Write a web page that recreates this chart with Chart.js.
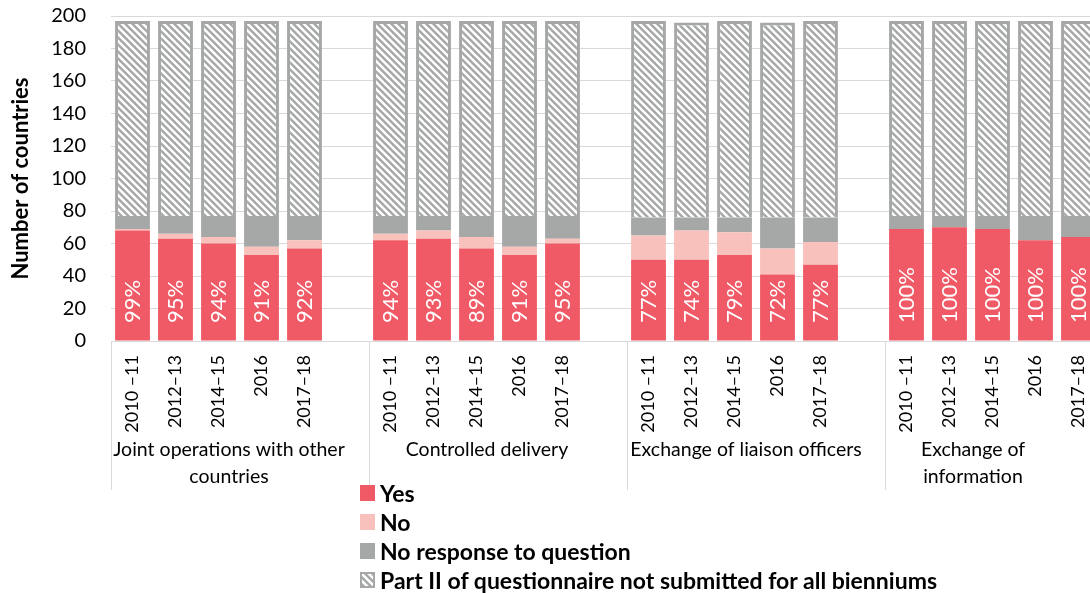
<!DOCTYPE html>
<html>
<head>
<meta charset="utf-8">
<script src="https://cdn.jsdelivr.net/npm/chart.js@4/dist/chart.umd.min.js"></script>
<style>
  html, body { margin: 0; padding: 0; background: #fff; overflow: hidden; }
  body { width: 1090px; height: 594px; position: relative; font-family: Lato, sans-serif; }
  #wrap { position: absolute; left: 0; top: 0; width: 1150px; height: 594px; }
  #legend { position: absolute; left: 360px; top: 483px; }
  #legend .item { display: flex; align-items: center; height: 20px; margin-bottom: 9px; font-weight: bold; font-size: 23px; color: #000; white-space: nowrap; }
  #legend .box { width: 15px; height: 16px; margin-right: 5px; box-sizing: border-box; }
  #source { position: absolute; left: 12px; top: 589px; font-size: 18px; color: #595959; white-space: nowrap; }
</style>
</head>
<body>
<div id="wrap"><canvas id="chart" width="1150" height="594"></canvas></div>
<div id="legend"></div>
<div id="source">Source: E/CN.7/2020/6</div>
<script>
const years = ["2010 –11", "2012–13", "2014–15", "2016", "2017–18"];
const groups = [
    ["Joint operations with other", "countries"],
    ["Controlled delivery"],
    ["Exchange of liaison officers"],
    ["Exchange of", "information"]
];

// number of countries, 5 bienniums per group
const yes = [68, 63, 60, 53, 57, 62, 63, 57, 53, 60, 50, 50, 53, 41, 47, 69, 70, 69, 62, 64];
const no = [1, 3, 4, 5, 5, 4, 5, 7, 5, 3, 15, 18, 14, 16, 14, 0, 0, 0, 0, 0];
const noResponse = [8, 11, 13, 19, 15, 11, 9, 13, 19, 14, 11, 8, 9, 19, 15, 8, 7, 8, 15, 13];
const notSubmitted = [120, 120, 120, 120, 120, 120, 120, 120, 120, 120, 121, 120, 121, 120, 121, 120, 120, 120, 120, 120];
const yesShare = [99, 95, 94, 91, 92, 94, 93, 89, 91, 95, 77, 74, 79, 72, 77, 100, 100, 100, 100, 100];

const yTicks = [0, 20, 40, 60, 80, 100, 120, 140, 160, 180, 200];

// label nudges for the group names under the axis
const groupShift = [-11, -11, -10, -41];

// one empty slot after every group
const labels = [];
groups.forEach(() => labels.push(...years, ""));

function spread(values) {
    const out = [];
    groups.forEach((g, gi) => {
        for (let i = 0; i < years.length; i++) out.push(values[gi * years.length + i]);
        out.push(null);
    });
    return out;
}

const grey = "#a6a8a8";

function hatchTile() {
    const s = 7;
    const c = document.createElement("canvas");
    c.width = s;
    c.height = s;
    const x = c.getContext("2d");
    x.fillStyle = grey;
    x.fillRect(0, 0, s, s);
    x.strokeStyle = "#fff";
    x.lineWidth = 2.5;
    x.beginPath();
    x.moveTo(0, 0); x.lineTo(s, s);
    x.moveTo(-1, s - 1); x.lineTo(1, s + 1);
    x.moveTo(s - 1, -1); x.lineTo(s + 1, 1);
    x.stroke();
    return c;
}

const tile = hatchTile();
const ctx = document.getElementById("chart").getContext("2d");
const hatch = ctx.createPattern(tile, "repeat");

const annotate = {
    id: "annotate",
    afterDatasetsDraw(chart) {
        const { ctx, scales: { y } } = chart;
        const meta = chart.getDatasetMeta(0);
        const base = y.getPixelForValue(0);
        ctx.save();
        ctx.fillStyle = "#fff";
        ctx.font = "22px Lato";
        ctx.textAlign = "left";
        ctx.textBaseline = "middle";
        let k = 0;
        meta.data.forEach((bar, i) => {
            if (chart.data.datasets[0].data[i] == null) return;
            ctx.save();
            ctx.translate(bar.x, base - 18);
            ctx.rotate(-Math.PI / 2);
            ctx.fillText(yesShare[k++] + "%", 0, 0);
            ctx.restore();
        });
        ctx.restore();
    },
    afterDraw(chart) {
        const { ctx, scales: { x, y } } = chart;
        const slot = x.width / labels.length;
        const per = years.length + 1;
        ctx.save();
        ctx.strokeStyle = "#d9d9d9";
        ctx.lineWidth = 1;
        for (let g = 0; g <= groups.length; g++) {
            const px = Math.round(x.left + g * per * slot) + 0.5;
            ctx.beginPath();
            ctx.moveTo(px, y.bottom);
            ctx.lineTo(px, 490);
            ctx.stroke();
        }
        ctx.fillStyle = "#000";
        ctx.font = "19.5px Lato";
        ctx.textAlign = "center";
        ctx.textBaseline = "middle";
        groups.forEach((lines, g) => {
            const cx = x.left + (g + 0.5) * per * slot + groupShift[g];
            lines.forEach((t, li) => ctx.fillText(t, cx, 450 + li * 27));
        });
        ctx.restore();
    }
};

const chart = new Chart(ctx, {
    type: "bar",
    data: {
        labels: labels,
        datasets: [
            { label: "Yes", data: spread(yes), backgroundColor: "#f05a66" },
            { label: "No", data: spread(no), backgroundColor: "#f8c1bc" },
            { label: "No response to question", data: spread(noResponse), backgroundColor: grey },
            {
                label: "Part II of questionnaire not submitted for all bienniums",
                data: spread(notSubmitted),
                backgroundColor: hatch,
                borderColor: grey,
                borderWidth: { top: 3, left: 3, right: 3, bottom: 0 }
            }
        ]
    },
    options: {
        responsive: false,
        animation: false,
        datasets: { bar: { barPercentage: 0.81, categoryPercentage: 1 } },
        layout: { padding: { top: 16, right: 7, left: 0, bottom: 0 } },
        plugins: { legend: { display: false }, tooltip: { enabled: false } },
        scales: {
            x: {
                stacked: true,
                grid: { display: false },
                border: { color: "#d9d9d9" },
                ticks: {
                    autoSkip: false, maxRotation: 90, minRotation: 90, padding: 6,
                    color: "#000", font: { family: "Lato", size: 18 }
                },
                afterFit: s => { s.height = 253; }
            },
            y: {
                stacked: true,
                min: yTicks[0],
                max: yTicks[yTicks.length - 1],
                afterBuildTicks: s => { s.ticks = yTicks.map(v => ({ value: v })); },
                ticks: { padding: 3, color: "#000", font: { family: "Lato", size: 20 } },
                grid: { color: "#d9d9d9", drawTicks: true, tickLength: 22, tickColor: "rgba(0,0,0,0)" },
                border: { display: false },
                title: {
                    display: true, text: "Number of countries", color: "#000",
                    font: { family: "Lato", size: 22, weight: "bold" },
                    padding: { top: 8, bottom: 0 }
                },
                afterFit: s => { s.width = 111; }
            }
        }
    },
    plugins: [annotate]
});

// legend list below the chart
const legend = document.getElementById("legend");
chart.data.datasets.forEach(ds => {
    const item = document.createElement("div");
    item.className = "item";
    const box = document.createElement("span");
    box.className = "box";
    if (typeof ds.backgroundColor === "string") {
        box.style.background = ds.backgroundColor;
    } else {
        box.style.backgroundImage = `url(${tile.toDataURL()})`;
        box.style.border = "2px solid " + grey;
    }
    const text = document.createElement("span");
    text.textContent = ds.label;
    item.appendChild(box);
    item.appendChild(text);
    legend.appendChild(item);
});
</script>
</body>
</html>
